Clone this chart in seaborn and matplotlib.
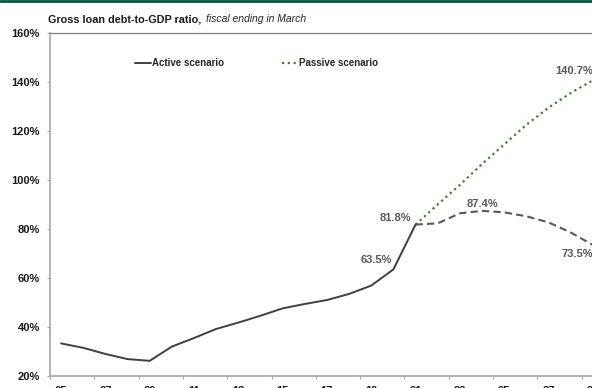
import matplotlib
matplotlib.use("Agg")
import matplotlib.pyplot as plt
import pandas as pd
import seaborn as sns
from matplotlib.lines import Line2D

# Fiscal years (ending in March) and gross loan debt-to-GDP ratio, %
years_hist = list(range(2005, 2022))
active_hist = [33.3, 31.5, 29.0, 26.9, 26.2, 32.0, 35.5, 39.2, 41.8, 44.6,
               47.6, 49.4, 51.0, 53.5, 56.9, 63.5, 81.8]
years_proj = list(range(2021, 2030))
active_proj = [81.8, 82.3, 86.4, 87.4, 86.8, 85.2, 82.7, 78.6, 73.5]
passive_proj = [81.8, 90.0, 98.0, 106.5, 114.5, 122.5, 129.5, 135.5, 140.7]

label_years = list(range(2005, 2030, 2))
label_text = [f"{y % 100:02d}" for y in label_years]
y_ticks = [20, 40, 60, 80, 100, 120, 140, 160]

series_labels = ["Active scenario", "Passive scenario"]

sns.set_theme(style="white")
plt.rcParams["font.family"] = ["Liberation Sans", "DejaVu Sans"]

DARK = "#404040"
GREY = "#595959"
GREEN = "#4b7a35"

fig = plt.figure(figsize=(5.92, 3.88), dpi=100)
W, H = 592, 388
x0, x1 = 50, 626
y_top, y_bot = 33, 376
ax = fig.add_axes([x0 / W, (H - y_bot) / H, (x1 - x0) / W, (y_bot - y_top) / H])

hist = pd.DataFrame({"year": years_hist, "ratio": active_hist})
proj = pd.DataFrame({"year": years_proj, "active": active_proj, "passive": passive_proj})

sns.lineplot(data=proj, x="year", y="passive", ax=ax, color=GREEN,
             linewidth=1.6, linestyle=(0, (1, 1.6)))
sns.lineplot(data=proj, x="year", y="active", ax=ax, color=GREY,
             linewidth=1.5, linestyle=(0, (3.5, 2)))
sns.lineplot(data=hist, x="year", y="ratio", ax=ax, color=DARK, linewidth=1.4)

ax.set_xlim(2004.5, 2030.5)
ax.set_ylim(20, 160)
ax.set_xlabel("")
ax.set_ylabel("")

# y axis
ax.set_yticks(y_ticks)
ax.set_yticklabels([f"{v}%" for v in y_ticks])
ax.tick_params(axis="y", length=2.2, width=0.8, color="#a6a6a6", pad=5,
               labelsize=8, labelcolor="#1a1a1a", left=True)

# x axis: labels on odd years, tick marks between two-year groups
ax.set_xticks(label_years)
ax.set_xticklabels(label_text)
ax.set_xticks([2004.5 + 2 * k for k in range(14)], minor=True)
ax.tick_params(axis="x", which="major", length=0, pad=7.5, labelsize=8,
               labelcolor="#1a1a1a")
ax.tick_params(axis="x", which="minor", length=2.2, width=0.8,
               color="#a6a6a6", bottom=True)
for lab in ax.get_xticklabels() + ax.get_yticklabels():
    lab.set_fontweight("bold")

for side in ["left", "bottom"]:
    ax.spines[side].set_color("#a6a6a6")
    ax.spines[side].set_linewidth(1.2)
ax.spines["top"].set_color("#808080")
ax.spines["top"].set_linewidth(0.9)
ax.spines["right"].set_visible(False)

# value labels
lab_kw = dict(fontsize=8, fontweight="bold", color=GREY)
ax.annotate("81.8%", (2021, 81.8), xytext=(-3, 1), textcoords="offset points",
            ha="right", va="bottom", **lab_kw)
ax.annotate("63.5%", (2020, 63.5), xytext=(-1, 3), textcoords="offset points",
            ha="right", va="bottom", **lab_kw)
ax.annotate("87.4%", (2024, 87.4), xytext=(0, 1), textcoords="offset points",
            ha="center", va="bottom", **lab_kw)
ax.annotate("73.5%", (2029, 73.5), xytext=(0, -3), textcoords="offset points",
            ha="right", va="top", **lab_kw)
ax.annotate("140.7%", (2029, 140.7), xytext=(0, 3), textcoords="offset points",
            ha="right", va="bottom", **lab_kw)

# legend
handles = [Line2D([], [], color=DARK, linewidth=1.4),
           Line2D([], [], color=GREEN, linewidth=1.6, linestyle=(0, (1, 1.6)))]
ax.legend(handles, series_labels, loc="center left",
          bbox_to_anchor=((135 - x0) / (x1 - x0), (y_bot - 63) / (y_bot - y_top)),
          ncol=2, frameon=False, handlelength=1.6, handletextpad=0.15,
          columnspacing=6.0, borderpad=0, borderaxespad=0,
          prop={"size": 7, "weight": "bold"})

# title
fig.text(48 / W, 1 - 19 / H, "Gross loan debt-to-GDP ratio,", fontsize=7.8,
         fontweight="bold", color="#1a1a1a", ha="left", va="center")
fig.text(206 / W, 1 - 19 / H, "fiscal ending in March", fontsize=7.5,
         fontstyle="italic", color="#262626", ha="left", va="center")

# header rule
fig.add_artist(Line2D([0, 1], [1 - 1 / H, 1 - 1 / H], transform=fig.transFigure,
                      color="#00573f", linewidth=2.0))

fig.savefig("out.png", dpi=100)
